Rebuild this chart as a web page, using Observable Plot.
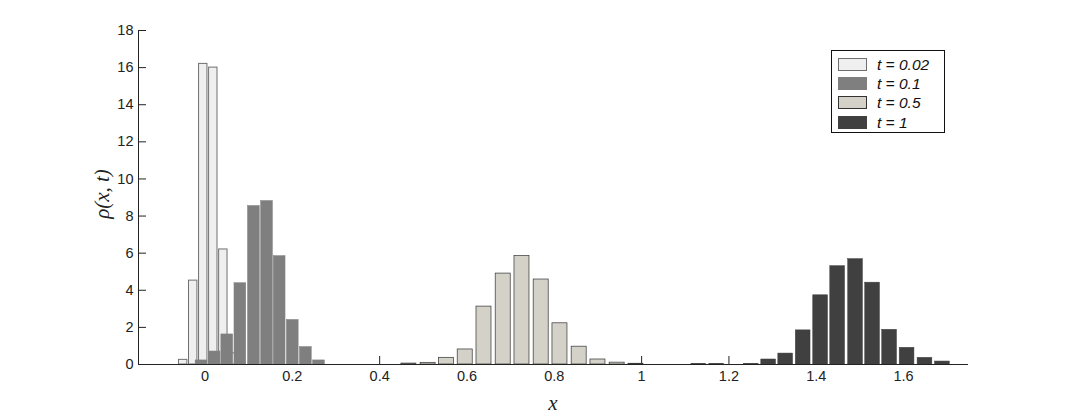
<!DOCTYPE html>
<html><head><meta charset="utf-8">
<script src="https://cdn.jsdelivr.net/npm/d3@7"></script>
<script src="https://cdn.jsdelivr.net/npm/@observablehq/plot@0.6"></script>
<style>
body{margin:0;background:#fff;}
#wrap{position:relative;width:1069px;height:415px;overflow:hidden;}
.legend{position:absolute;left:831px;top:50px;width:114px;height:83px;border:1px solid #111;background:#fff;box-sizing:border-box;font-family:"Liberation Sans",Arial,sans-serif;font-style:italic;font-size:15.5px;color:#111;}
.row{position:absolute;left:6px;height:15px;display:flex;align-items:center;}
.sw{width:29px;height:13px;box-sizing:border-box;margin-right:10px;}
.ylab{position:absolute;left:102px;top:194px;transform:translate(-50%,-50%) rotate(-90deg);font-family:"Liberation Serif","DejaVu Serif",serif;font-style:italic;font-size:21px;color:#222;white-space:nowrap;}
.xlab{position:absolute;left:553px;top:403px;transform:translate(-50%,-50%);font-family:"Liberation Serif","DejaVu Serif",serif;font-style:italic;font-size:21px;color:#222;}
</style></head>
<body><div id="wrap"></div>
<script>
// ---- data ----
const seriesLabels = ["t = 0.02", "t = 0.1", "t = 0.5", "t = 1"];
const binWidths = [0.0229, 0.0299, 0.0435, 0.0397];
const x002 = [-0.050, -0.027, -0.004, 0.019, 0.042, 0.065];
const y002 = [0.25, 4.52, 16.2, 16.0, 6.2, 0.6];
const x01 = [-0.008, 0.022, 0.051, 0.081, 0.112, 0.142, 0.171, 0.201, 0.231, 0.261];
const y01 = [0.22, 0.7, 1.62, 4.38, 8.54, 8.81, 5.84, 2.4, 0.94, 0.22];
const x05 = [0.467, 0.511, 0.553, 0.596, 0.639, 0.683, 0.726, 0.770, 0.813, 0.857, 0.900, 0.944, 0.987];
const y05 = [0.05, 0.09, 0.36, 0.81, 3.12, 4.9, 5.84, 4.58, 2.22, 0.96, 0.27, 0.1, 0.04];
const x1 = [1.131, 1.172, 1.251, 1.291, 1.330, 1.370, 1.410, 1.449, 1.490, 1.529, 1.568, 1.608, 1.649, 1.689];
const y1 = [0.04, 0.04, 0.04, 0.27, 0.59, 1.84, 3.73, 5.30, 5.68, 4.41, 1.87, 0.90, 0.36, 0.16];
const xTicks = [0, 0.2, 0.4, 0.6, 0.8, 1, 1.2, 1.4, 1.6];
const yTicks = [0, 2, 4, 6, 8, 10, 12, 14, 16, 18];

// ---- styles ----
const fills = ["#efefef", "#7f7f7f", "#d4d1c9", "#404040"];
const strokes = ["#707070", "#7f7f7f", "#333333", "#404040"];
const strokeWidths = [1, 0.5, 0.7, 0.5];
const barFrac = [0.84, 0.9, 0.79, 0.85];

const xs = [x002, x01, x05, x1], ys = [y002, y01, y05, y1];
const tables = xs.map((xc, s) => xc.map((c, i) => ({
  series: seriesLabels[s],
  x1: c - binWidths[s] * barFrac[s] / 2,
  x2: c + binWidths[s] * barFrac[s] / 2,
  y: ys[s][i]
})));

const fmt = d => String(+(+d).toFixed(1));
const font = {fontFamily: "'Liberation Sans', Arial, sans-serif", fontSize: 14.5, fill: "#222"};

const chart = Plot.plot({
  width: 1069, height: 415,
  marginLeft: 138, marginRight: 102, marginTop: 30, marginBottom: 51,
  style: {background: "#fff", overflow: "visible"},
  x: {domain: [-0.1523, 1.7464], label: null},
  y: {domain: [0, 18], label: null},
  marks: [
    Plot.axisX(xTicks, {tickSize: 8, dy: -8, text: null, stroke: "#222", label: null}),
    Plot.axisY(yTicks, {tickSize: 8, dx: 8, text: null, stroke: "#222", label: null}),
    Plot.axisX(xTicks, {tickSize: 0, tickPadding: 6, tickFormat: fmt, label: null, ...font}),
    Plot.axisY(yTicks, {tickSize: 0, tickPadding: 5, tickFormat: fmt, label: null, ...font}),
    ...tables.map((t, s) => Plot.rectY(t, {x1: "x1", x2: "x2", y: "y", fill: fills[s], stroke: strokes[s], strokeWidth: strokeWidths[s]})),
    Plot.frame({anchor: "left", stroke: "#222"}),
    Plot.frame({anchor: "bottom", stroke: "#222"})
  ]
});
const wrap = document.getElementById("wrap");
wrap.appendChild(chart);

// legend
const leg = document.createElement("div");
leg.className = "legend";
const rowTops = [6, 25, 44, 64];
seriesLabels.forEach((lab, s) => {
  const r = document.createElement("div");
  r.className = "row";
  r.style.top = rowTops[s] + "px";
  const sw = document.createElement("div");
  sw.className = "sw";
  sw.style.background = fills[s];
  sw.style.border = (s === 0 || s === 2) ? "1px solid " + strokes[s] : "none";
  r.appendChild(sw);
  const tx = document.createElement("span");
  tx.textContent = lab;
  r.appendChild(tx);
  leg.appendChild(r);
});
wrap.appendChild(leg);

const yl = document.createElement("div"); yl.className = "ylab"; yl.textContent = "ρ(x, t)"; wrap.appendChild(yl);
const xl = document.createElement("div"); xl.className = "xlab"; xl.textContent = "x"; wrap.appendChild(xl);
</script></body></html>
